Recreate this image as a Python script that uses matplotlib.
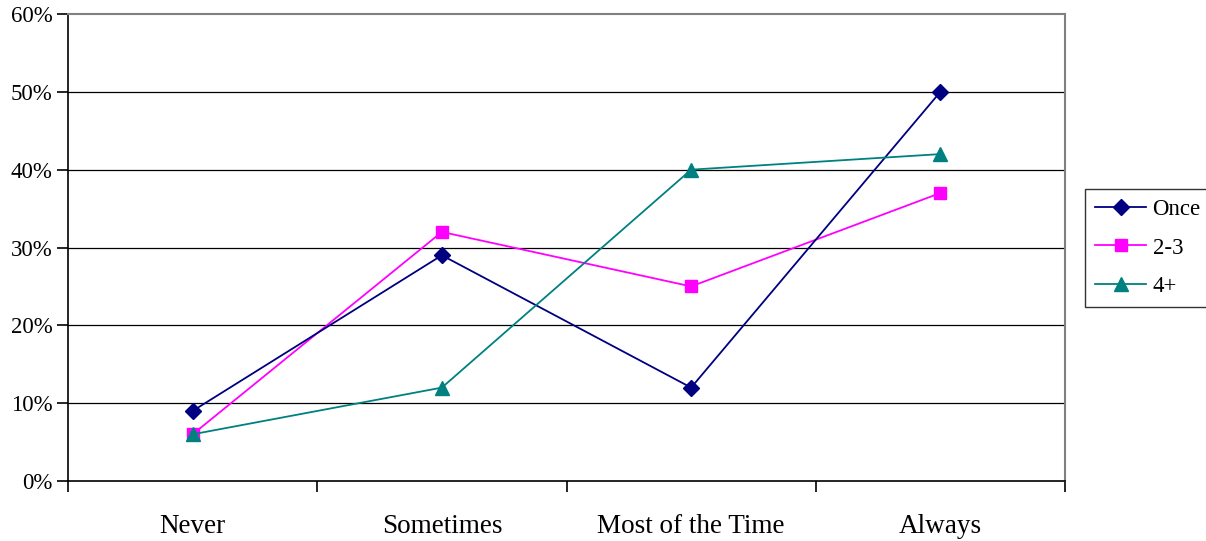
import matplotlib
matplotlib.use("Agg")
import matplotlib.pyplot as plt
from matplotlib.ticker import FixedLocator, PercentFormatter

categories = ["Never", "Sometimes", "Most of the Time", "Always"]
once = [9, 29, 12, 50]
two_three = [6, 32, 25, 37]
four_plus = [6, 12, 40, 42]
yticks = [0, 10, 20, 30, 40, 50, 60]

plt.rcParams['font.family'] = ['Liberation Serif', 'DejaVu Serif']

fig = plt.figure(figsize=(12.06, 5.41), dpi=100)
ax = fig.add_axes([68/1206, 1-481/541, (1065-68)/1206, (481-14)/541])

x = list(range(len(categories)))
ax.plot(x, once, color='#000080', marker='D', markersize=8, linewidth=1.3, label='Once', zorder=5)
ax.plot(x, two_three, color='#FF00FF', marker='s', markersize=8, linewidth=1.3, label='2-3', zorder=4)
ax.plot(x, four_plus, color='#008080', marker='^', markersize=9.5, linewidth=1.3, label='4+', zorder=6)

ax.set_xlim(-0.5, len(categories) - 0.5)
ax.set_ylim(0, 60)
ax.yaxis.set_major_locator(FixedLocator(yticks))
ax.yaxis.set_major_formatter(PercentFormatter(decimals=0))
for yv in yticks[1:-1]:
    ax.axhline(yv, color='black', linewidth=0.9, zorder=1)

ax.set_xticks([i - 0.5 for i in range(len(categories) + 1)])
ax.set_xticklabels([])
ax.set_xticks(x, minor=True)
ax.set_xticklabels(categories, minor=True, fontsize=19.5)
ax.tick_params(axis='x', which='minor', length=0, pad=24)
ax.tick_params(axis='x', which='major', length=8, width=1.2, direction='out')
ax.tick_params(axis='y', length=8, width=1.2, direction='out', labelsize=16.5, pad=3)

for s in ['left', 'bottom']:
    ax.spines[s].set_color('black')
    ax.spines[s].set_linewidth(1.2)
for s in ['top', 'right']:
    ax.spines[s].set_color('#808080')
    ax.spines[s].set_linewidth(1.5)

leg = ax.legend(loc='center left', bbox_to_anchor=(1085/1206, 1 - 248/541), bbox_transform=fig.transFigure,
                fontsize=16.5, frameon=True, fancybox=False, edgecolor='black', borderpad=0.45,
                handlelength=2.2, handletextpad=0.3, labelspacing=0.75, borderaxespad=0)
leg.get_frame().set_linewidth(1.0)

fig.savefig('out.png', dpi=100)
